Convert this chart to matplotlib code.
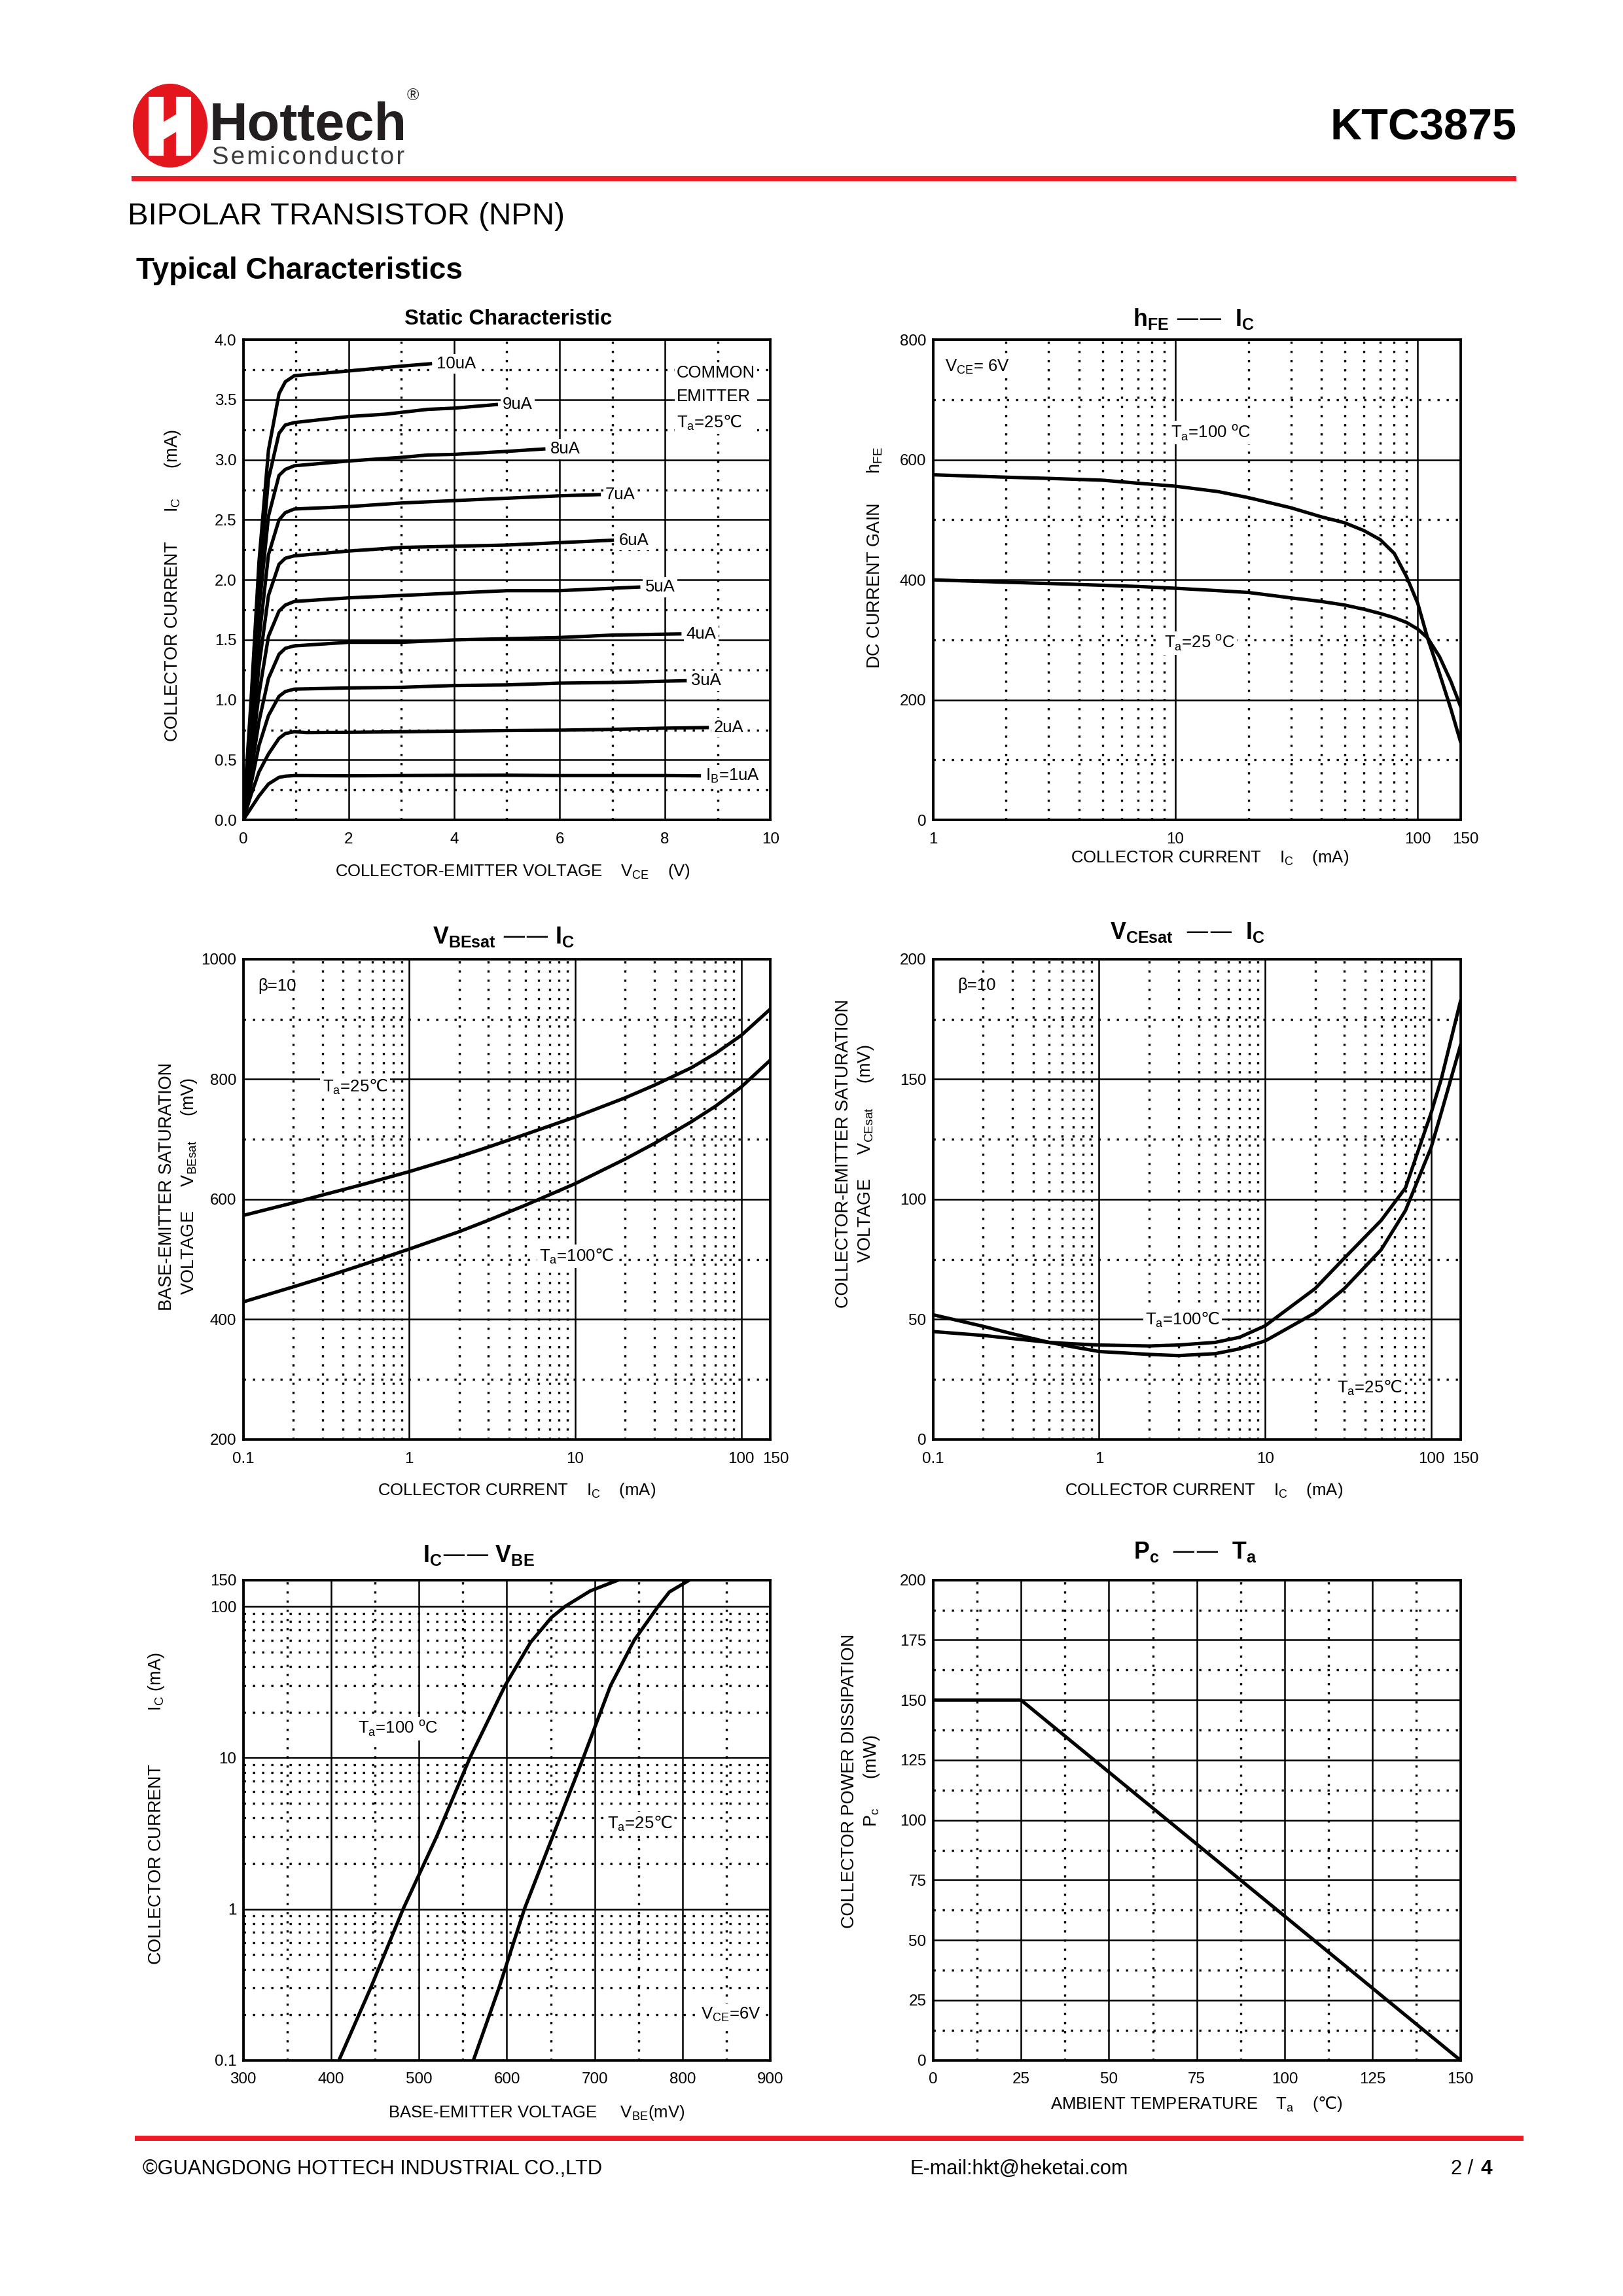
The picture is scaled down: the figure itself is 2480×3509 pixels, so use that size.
import matplotlib.pyplot as plt
from matplotlib.patches import Ellipse, Rectangle, Polygon
from matplotlib.ticker import NullFormatter
from matplotlib.transforms import offset_copy

ARIAL = ['Liberation Sans', 'DejaVu Sans']
plt.rcParams['font.family'] = ARIAL

# ---------------- data ----------------
# Static characteristic, IC (mA) vs VCE (V), Ta = 25C, one curve per IB
ib_labels = [r'I$_\mathregular{B}$=1uA', '2uA', '3uA', '4uA', '5uA',
             '6uA', '7uA', '8uA', '9uA', '10uA']
static_vce = [
    [0, 0.15, 0.3, 0.48, 0.68, 0.8, 0.97, 2, 3, 4, 5, 6, 7, 8, 8.65],
    [0, 0.15, 0.3, 0.48, 0.68, 0.8, 0.97, 1.2, 2, 3, 4, 5, 6, 7, 8, 8.8],
    [0, 0.15, 0.3, 0.48, 0.68, 0.8, 0.97, 2, 3, 4, 5, 6, 7, 8.38],
    [0, 0.15, 0.3, 0.48, 0.68, 0.8, 0.97, 2, 3, 4, 5, 6, 7, 8.28],
    [0, 0.15, 0.3, 0.48, 0.68, 0.8, 0.97, 2, 3, 4, 5, 6, 7, 7.5],
    [0, 0.15, 0.3, 0.48, 0.68, 0.8, 0.97, 2, 3, 4, 5, 6, 7],
    [0, 0.15, 0.3, 0.48, 0.68, 0.8, 0.97, 2, 3, 4, 5, 6, 6.75],
    [0, 0.15, 0.3, 0.48, 0.68, 0.8, 0.97, 2, 3, 3.5, 4, 5, 5.7],
    [0, 0.15, 0.3, 0.48, 0.68, 0.8, 0.97, 2, 2.7, 3.5, 4, 4.8],
    [0, 0.15, 0.3, 0.48, 0.68, 0.8, 0.97, 2, 2.5, 3, 3.55],
]
static_ic = [
    [0, 0.1, 0.2, 0.3, 0.355, 0.365, 0.37, 0.368, 0.37, 0.372, 0.373, 0.37, 0.37, 0.37, 0.368],
    [0, 0.21, 0.4, 0.55, 0.68, 0.72, 0.735, 0.728, 0.73, 0.735, 0.74, 0.745, 0.748, 0.755, 0.765, 0.77],
    [0, 0.3, 0.62, 0.87, 1.03, 1.07, 1.09, 1.10, 1.105, 1.12, 1.125, 1.14, 1.145, 1.16],
    [0, 0.4, 0.82, 1.18, 1.38, 1.43, 1.45, 1.48, 1.48, 1.50, 1.51, 1.52, 1.54, 1.55],
    [0, 0.5, 1.05, 1.53, 1.74, 1.79, 1.82, 1.85, 1.87, 1.89, 1.91, 1.91, 1.93, 1.94],
    [0, 0.6, 1.28, 1.87, 2.13, 2.18, 2.20, 2.24, 2.27, 2.28, 2.29, 2.31, 2.33],
    [0, 0.7, 1.5, 2.21, 2.5, 2.56, 2.59, 2.61, 2.64, 2.66, 2.68, 2.70, 2.71],
    [0, 0.8, 1.75, 2.53, 2.87, 2.92, 2.95, 2.99, 3.02, 3.04, 3.045, 3.07, 3.09],
    [0, 0.9, 1.95, 2.84, 3.22, 3.29, 3.31, 3.36, 3.38, 3.42, 3.43, 3.46],
    [0, 1.0, 2.15, 3.08, 3.55, 3.65, 3.70, 3.74, 3.76, 3.78, 3.80],
]

# hFE vs IC (VCE = 6V)
hfe_ic = [1, 2, 3, 5, 7, 10, 15, 20, 30, 40, 50, 60, 70, 80, 90, 100, 110, 123, 137, 150]
hfe_100 = [575, 571, 569, 566, 561, 556, 547, 537, 520, 505, 495, 482, 467, 444, 405, 361, 302, 244, 185, 131]
hfe_25 = [400, 396, 394, 391, 389, 386, 382, 379, 370, 364, 358, 351, 344, 337, 329, 318, 303, 272, 231, 190]

# VBEsat vs IC (beta = 10)
vbe_ic = [0.1, 0.2, 0.3, 0.5, 1, 2, 3, 5, 10, 20, 30, 50, 70, 100, 150]
vbesat_25 = [573, 594, 607, 623, 646, 671, 687, 708, 737, 769, 790, 819, 843, 873, 917]
vbesat_100 = [429, 454, 469, 489, 517, 546, 565, 590, 626, 667, 693, 729, 755, 787, 832]

# VCEsat vs IC (beta = 10)
vce_ic = [0.1, 0.2, 0.3, 0.5, 0.7, 1, 2, 3, 5, 7, 10, 20, 30, 50, 70, 100, 115, 150]
vcesat_100 = [44.9, 43.3, 42.0, 40.4, 39.8, 39.3, 38.9, 39.3, 40.4, 42.5, 47.3, 62.8, 75.5, 91.2, 104.7, 136, 150, 182.4]
vcesat_25 = [51.9, 47.1, 44.0, 40.4, 38.5, 36.6, 35.4, 34.9, 35.7, 37.7, 41.0, 52.7, 62.8, 79.0, 95.3, 121.6, 136, 164]

# IC vs VBE (VCE = 6V)
ic_100 = [0.1, 0.3, 1, 3, 10, 30, 58, 85, 100, 127, 150]
vbe_100 = [409, 445, 482, 520, 558, 598, 627, 651, 666, 695, 727]
ic_25 = [0.1, 0.3, 1, 3, 10, 30, 60, 100, 125, 150]
vbe_25 = [562, 591, 620, 652, 687, 718, 745, 772, 785, 808]

# Pc vs Ta
pc_ta = [0, 25, 150]
pc_mw = [150, 150, 0]

# tick layout
log_minor_ic = [0.2, 0.3, 0.4, 0.5, 0.6, 0.7, 0.8, 0.9, 2, 3, 4, 5, 6, 7, 8, 9,
                20, 30, 40, 50, 60, 70, 80, 90]
log_major_ic = [0.1, 1, 10, 100, 150]
log_major_lbl = ['0.1', '1', '10', '100', '150']

TICK = 5.8
NOTE = 6.2
XLAB = 6.2
YLAB = 6.5
TITLE = 8.6
LW = 1.25
WB = dict(fc='white', ec='none', pad=0.8)

# ---------------- page ----------------
fig = plt.figure(figsize=(2480 / 300, 3509 / 300), dpi=300)

page = fig.add_axes([0, 0, 1, 1])
page.set_xlim(0, 2480)
page.set_ylim(3509, 0)
page.axis('off')

RED = '#ee1c25'
# logo
page.add_patch(Ellipse((260, 192), 110, 124, color='#e3161e'))
page.add_patch(Rectangle((229, 150), 19, 86, color='white'))
page.add_patch(Rectangle((271, 150), 19, 86, color='white'))
page.add_patch(Polygon([(248, 190), (271, 176), (271, 198), (248, 212)], color='white'))
page.text(320, 214, 'Hottech', fontsize=19.5, weight='bold', color='#231f20',
          va='baseline')
page.text(622, 146, '®', fontsize=6, color='#231f20', va='center')
page.text(324, 251, '\u200a'.join('Semiconductor'), fontsize=9.2,
          color='#3a3a3a', va='baseline')

page.text(2317, 197, 'KTC3875', fontsize=16, weight='bold', ha='right', va='center')
page.plot([201, 2317], [273, 273], color=RED, lw=1.9, solid_capstyle='butt')
page.text(195, 331, 'BIPOLAR TRANSISTOR (NPN)', fontsize=11.4, va='center')
page.text(208, 414, 'Typical Characteristics', fontsize=11, weight='bold', va='center')

page.plot([206, 2328], [3268, 3268], color=RED, lw=1.9, solid_capstyle='butt')
page.text(218, 3315, '©GUANGDONG HOTTECH INDUSTRIAL CO.,LTD', fontsize=7.4, va='center')
page.text(1390, 3315, 'E-mail:hkt@heketai.com', fontsize=7.4, va='center')
page.text(2259, 3315, '2 / ', fontsize=7.4, va='center', ha='right')
page.text(2280, 3315, '4', fontsize=7.6, weight='bold', va='center', ha='right')


def frame(box, xlim, ylim, xmaj, xlbl, xmin, ymaj, ylbl, ymin, xlog=False, ylog=False):
    l, t, r, b = box
    ax = fig.add_axes([l / 1108, 1 - b / 1568, (r - l) / 1108, (b - t) / 1568])
    if xlog:
        ax.set_xscale('log')
    if ylog:
        ax.set_yscale('log')
    ax.set_xlim(*xlim)
    ax.set_ylim(*ylim)
    if xlog:
        # the last decade label sits a touch right of the frame, as in the sheet
        ax.set_xticks(xmaj, xlbl[:-1] + [''])
        tr = offset_copy(ax.get_xaxis_transform(), fig=fig, x=1.8, y=-4.5, units='points')
        ax.text(xmaj[-1], 0, xlbl[-1], transform=tr, ha='center', va='top', fontsize=TICK)
    else:
        ax.set_xticks(xmaj, xlbl)
    ax.set_xticks(xmin, minor=True)
    ax.set_yticks(ymaj, ylbl)
    ax.set_yticks(ymin, minor=True)
    ax.xaxis.set_minor_formatter(NullFormatter())
    ax.yaxis.set_minor_formatter(NullFormatter())
    ax.set_axisbelow(True)
    ax.grid(True, which='major', color='black', lw=0.6, ls='-')
    ax.grid(True, which='minor', color='black', lw=0.8, ls=(0, (1, 3.2)))
    ax.tick_params(which='both', length=0, labelsize=TICK)
    ax.tick_params(axis='x', pad=4.5)
    ax.tick_params(axis='y', pad=2.5)
    for s in ax.spines.values():
        s.set_linewidth(0.9)
    return ax


def deco(ax, title, tx, ty, xl, xx, xy, yl, yx, yy, tsize=TITLE):
    ax.text(tx, ty, title, transform=ax.transAxes, ha='center', va='center',
            fontsize=tsize, weight='bold')
    ax.text(xx, xy, xl, transform=ax.transAxes, ha='center', va='center',
            fontsize=XLAB)
    ax.text(yx, yy, yl, transform=ax.transAxes, ha='center', va='center',
            rotation=90, fontsize=YLAB, multialignment='center', linespacing=1.28)


# 1) Static characteristic
ax = frame((166, 232, 526, 560), (0, 10), (0, 4),
           [0, 2, 4, 6, 8, 10], ['0', '2', '4', '6', '8', '10'], [1, 3, 5, 7, 9],
           [0, 0.5, 1, 1.5, 2, 2.5, 3, 3.5, 4],
           ['0.0', '0.5', '1.0', '1.5', '2.0', '2.5', '3.0', '3.5', '4.0'],
           [0.25, 0.75, 1.25, 1.75, 2.25, 2.75, 3.25, 3.75])
for v, i, lab in zip(static_vce, static_ic, ib_labels):
    ax.plot(v, i, color='black', lw=LW, solid_joinstyle='round')
    ax.text(v[-1] + 0.12, i[-1], lab, fontsize=NOTE, va='center', bbox=WB)
ax.text(8.22, 3.79, 'COMMON\nEMITTER\n' + r'T$_\mathregular{a}$=25$℃$', fontsize=NOTE,
        va='top', linespacing=1.62, bbox=WB)
deco(ax, 'Static Characteristic', 0.503, 1.043,
     r'COLLECTOR-EMITTER VOLTAGE    V$_\mathregular{CE}$    (V)', 0.511, -0.107,
     r'COLLECTOR CURRENT      I$_\mathregular{C}$      (mA)', -0.133, 0.488, tsize=7.9)

# 2) hFE - IC
ax = frame((637, 232, 997, 560), (1, 150), (0, 800),
           [1, 10, 100, 150], ['1', '10', '100', '150'],
           [2, 3, 4, 5, 6, 7, 8, 9, 20, 30, 40, 50, 60, 70, 80, 90],
           [0, 200, 400, 600, 800], ['0', '200', '400', '600', '800'],
           [100, 300, 500, 700], xlog=True)
ax.plot(hfe_ic, hfe_100, color='black', lw=LW)
ax.plot(hfe_ic, hfe_25, color='black', lw=LW)
ax.text(1.12, 755, r'V$_\mathregular{CE}$= 6V', fontsize=NOTE, va='center', bbox=WB)
ax.text(9.6, 645, r'T$_\mathregular{a}$=100 $^\mathregular{o}$C', fontsize=NOTE,
        va='center', bbox=WB)
ax.text(9.0, 295, r'T$_\mathregular{a}$=25 $^\mathregular{o}$C', fontsize=NOTE,
        va='center', bbox=WB)
deco(ax, r'h$_\mathregular{FE}$ ——  I$_\mathregular{C}$', 0.494, 1.043,
     r'COLLECTOR CURRENT    I$_\mathregular{C}$    (mA)', 0.525, -0.079,
     r'DC CURRENT GAIN      h$_\mathregular{FE}$', -0.111, 0.546)

# 3) VBEsat - IC
ax = frame((166, 655, 526, 983), (0.1, 150), (200, 1000),
           log_major_ic, log_major_lbl, log_minor_ic,
           [200, 400, 600, 800, 1000], ['200', '400', '600', '800', '1000'],
           [300, 500, 700, 900], xlog=True)
ax.plot(vbe_ic, vbesat_25, color='black', lw=LW)
ax.plot(vbe_ic, vbesat_100, color='black', lw=LW)
ax.text(0.123, 955, 'β=10', fontsize=NOTE, va='center')
ax.text(0.3, 787, r'T$_\mathregular{a}$=25$℃$', fontsize=NOTE, va='center', bbox=WB)
ax.text(6.1, 505, r'T$_\mathregular{a}$=100$℃$', fontsize=NOTE, va='center', bbox=WB)
deco(ax, r'V$_\mathregular{BEsat}$ —— I$_\mathregular{C}$', 0.494, 1.046,
     r'COLLECTOR CURRENT    I$_\mathregular{C}$    (mA)', 0.519, -0.107,
     'BASE-EMITTER SATURATION\n' + r'VOLTAGE     V$_\mathregular{BEsat}$     (mV)',
     -0.122, 0.527)

# 4) VCEsat - IC
ax = frame((637, 655, 997, 983), (0.1, 150), (0, 200),
           log_major_ic, log_major_lbl, log_minor_ic,
           [0, 50, 100, 150, 200], ['0', '50', '100', '150', '200'],
           [25, 75, 125, 175], xlog=True)
ax.plot(vce_ic, vcesat_100, color='black', lw=LW)
ax.plot(vce_ic, vcesat_25, color='black', lw=LW)
ax.text(0.14, 189, 'β=10', fontsize=NOTE, va='center')
ax.text(1.9, 50, r'T$_\mathregular{a}$=100$℃$', fontsize=NOTE, va='center', bbox=WB)
ax.text(27, 21.5, r'T$_\mathregular{a}$=25$℃$', fontsize=NOTE, va='center', bbox=WB)
deco(ax, r'V$_\mathregular{CEsat}$  ——  I$_\mathregular{C}$', 0.483, 1.055,
     r'COLLECTOR CURRENT    I$_\mathregular{C}$    (mA)', 0.514, -0.107,
     'COLLECTOR-EMITTER SATURATION\n' + r'VOLTAGE     V$_\mathregular{CEsat}$     (mV)',
     -0.147, 0.595)

# 5) IC - VBE
ax = frame((166, 1079, 526, 1407), (300, 900), (0.1, 150),
           [300, 400, 500, 600, 700, 800, 900],
           ['300', '400', '500', '600', '700', '800', '900'],
           [350, 450, 550, 650, 750, 850],
           log_major_ic, log_major_lbl, log_minor_ic, ylog=True)
ax.plot(vbe_100, ic_100, color='black', lw=LW)
ax.plot(vbe_25, ic_25, color='black', lw=LW)
ax.text(431, 15.6, r'T$_\mathregular{a}$=100 $^\mathregular{o}$C', fontsize=NOTE,
        va='center', bbox=WB)
ax.text(714, 3.7, r'T$_\mathregular{a}$=25$℃$', fontsize=NOTE, va='center', bbox=WB)
ax.text(821, 0.2, r'V$_\mathregular{CE}$=6V', fontsize=NOTE, va='center', bbox=WB)
deco(ax, r'I$_\mathregular{C}$—— V$_\mathregular{BE}$', 0.447, 1.052,
     r'BASE-EMITTER VOLTAGE     V$_\mathregular{BE}$(mV)', 0.556, -0.110,
     r'COLLECTOR CURRENT           I$_\mathregular{C}$ (mA)', -0.164, 0.524)

# 6) Pc - Ta
ax = frame((637, 1079, 997, 1407), (0, 150), (0, 200),
           [0, 25, 50, 75, 100, 125, 150],
           ['0', '25', '50', '75', '100', '125', '150'],
           [12.5, 37.5, 62.5, 87.5, 112.5, 137.5],
           [0, 25, 50, 75, 100, 125, 150, 175, 200],
           ['0', '25', '50', '75', '100', '125', '150', '175', '200'],
           [12.5, 37.5, 62.5, 87.5, 112.5, 137.5, 162.5, 187.5])
ax.plot(pc_ta, pc_mw, color='black', lw=LW)
deco(ax, r'P$_\mathregular{c}$  ——  T$_\mathregular{a}$', 0.497, 1.058,
     r'AMBIENT TEMPERATURE    T$_\mathregular{a}$    ($℃$)', 0.5, -0.091,
     'COLLECTOR POWER DISSIPATION\n' + r'P$_\mathregular{c}$      (mW)',
     -0.136, 0.582)

fig.savefig('out.png', dpi=300)
